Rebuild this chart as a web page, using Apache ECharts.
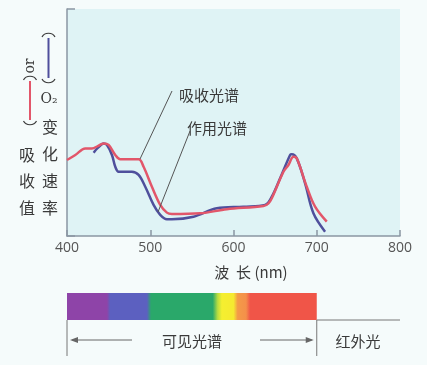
<!DOCTYPE html>
<html><head><meta charset="utf-8">
<script src="https://cdn.jsdelivr.net/npm/echarts@6/dist/echarts.min.js"></script>
<style>html,body{margin:0;padding:0;background:#f5fbfb}#c{width:427px;height:365px}</style>
</head><body><div id="c"></div>
<script>
const wavelengthTicks = [400, 500, 600, 700, 800];
// 吸收光谱 (absorption spectrum)
const absorptionNm  = [400, 410, 422, 430, 437, 444, 450, 458, 464, 486, 492, 502, 512, 520, 526, 560, 592, 636, 642, 646, 660, 666, 672, 676, 688, 698, 712];
const absorptionVal = [33.5, 35.7, 38.6, 38.6, 39.6, 40.8, 40.1, 35.7, 33.8, 33.8, 30.5, 21.7, 13.7, 10.3, 9.7, 10.0, 11.8, 13.2, 14.4, 16.6, 28.3, 31.3, 34.9, 34.2, 21.7, 12.9, 6.3];
// 作用光谱 (action spectrum)
const actionNm  = [432, 437, 444, 448, 454, 458, 462, 478, 486, 494, 504, 512, 520, 526, 552, 580, 612, 638, 646, 656, 668, 670, 676, 686, 696, 710];
const actionVal = [36.7, 38.8, 40.7, 40.1, 35.7, 30.5, 28.3, 28.3, 26.9, 21.7, 13.7, 9.3, 7.4, 7.4, 8.5, 12.2, 12.9, 13.7, 17.3, 25.4, 35.7, 36.0, 34.2, 23.2, 10.0, 1.9];
// visible spectrum colour band
const spectrumNm    = [400, 448, 452, 496, 501, 575, 581, 586, 600, 605, 615, 620, 700];
const spectrumColor = ['#8e44a8', '#8e44a8', '#5c60c0', '#5c60c0', '#2aa86a', '#2aa86a', '#b8dc40', '#f5ef30', '#f5ea30', '#f49a48', '#f4904a', '#f05548', '#f05548'];
const visibleRange = [400, 700];

const zip = (a, b) => a.map((v, i) => [v, b[i]]);
const CJK = '"Noto Sans CJK SC", "Noto Sans", sans-serif';
const TXT = '#3a3a3a';
const AX = '#8a96a3';
const RED = '#e2566a';
const BLUE = '#4f4f9c';

const chart = echarts.init(document.getElementById('c'));
chart.setOption({
  backgroundColor: '#f5fbfb',
  animation: false,
  grid: [
    {left: 67, right: 27, top: 9, bottom: 129, show: true, backgroundColor: '#dff3f5', borderWidth: 0},
    {left: 67, right: 27, top: 293, height: 27, show: false}
  ],
  xAxis: [
    {gridIndex: 0, type: 'value', min: wavelengthTicks[0], max: wavelengthTicks[wavelengthTicks.length - 1], interval: 100,
     axisLine: {show: true, lineStyle: {color: AX, width: 1.5}},
     axisTick: {show: true, inside: true, length: 6, lineStyle: {color: AX, width: 1.5}},
     axisLabel: {color: '#555', fontSize: 14, margin: 5, fontFamily: '"Open Sans", sans-serif'},
     splitLine: {show: false}},
    {gridIndex: 1, type: 'value', min: 400, max: 800, show: false}
  ],
  yAxis: [
    {gridIndex: 0, type: 'value', min: 0, max: 100, interval: 100,
     axisLine: {show: true, lineStyle: {color: AX, width: 1.5}},
     axisTick: {show: true, inside: true, length: 8, lineStyle: {color: AX, width: 1.5}},
     axisLabel: {show: false}, splitLine: {show: false}},
    {gridIndex: 1, type: 'value', min: 0, max: 1, show: false}
  ],
  series: [
    {type: 'line', name: '吸收光谱', data: zip(absorptionNm, absorptionVal), smooth: 0.35, symbol: 'none',
     lineStyle: {color: RED, width: 2.5}, z: 3},
    {type: 'line', name: '作用光谱', data: zip(actionNm, actionVal), smooth: 0.35, symbol: 'none',
     lineStyle: {color: BLUE, width: 2.5}, z: 2},
    {type: 'custom', xAxisIndex: 1, yAxisIndex: 1, data: [visibleRange],
     renderItem: function (params, api) {
       const p0 = api.coord([api.value(0), 1]);
       const p1 = api.coord([api.value(1), 0]);
       const span = visibleRange[1] - visibleRange[0];
       const stops = spectrumNm.map((nm, i) => ({offset: (nm - visibleRange[0]) / span, color: spectrumColor[i]}));
       return {type: 'rect', shape: {x: p0[0], y: p0[1], width: p1[0] - p0[0], height: p1[1] - p0[1]},
               style: {fill: new echarts.graphic.LinearGradient(0, 0, 1, 0, stops)}};
     }}
  ]
});

const xv0 = chart.convertToPixel({xAxisIndex: 1}, visibleRange[0]);
const xv1 = chart.convertToPixel({xAxisIndex: 1}, visibleRange[1]);
const xEnd = chart.convertToPixel({xAxisIndex: 1}, 800);
const barBottom = chart.convertToPixel({yAxisIndex: 1}, 0);

function t(text, x, y, opt) {
  opt = opt || {};
  return {type: 'text', x: x, y: y, rotation: opt.rot || 0, z: 10,
    style: {text: text, fill: opt.color || TXT, font: (opt.size || 15) + 'px ' + (opt.family || CJK),
            align: opt.align || 'center', verticalAlign: 'middle',
            textAlign: opt.align || 'center', textVerticalAlign: 'middle'}};
}
function ln(x1, y1, x2, y2, color, w) {
  return {type: 'line', z: 10, shape: {x1: x1, y1: y1, x2: x2, y2: y2}, style: {stroke: color || '#555', lineWidth: w || 1}};
}
// horizontal "bracket" cap: dir -1 = opening downward (top), +1 = opening upward (bottom)
function cap(cx, y, dir) {
  return {type: 'bezierCurve', z: 10,
    shape: {x1: cx - 6.5, y1: y, cpx1: cx - 5, cpy1: y - dir * 6, cpx2: cx + 5, cpy2: y - dir * 6, x2: cx + 6.5, y2: y, x1_: 0},
    style: {stroke: TXT, lineWidth: 1.2, fill: null}};
}
function capShape(cx, y, dir) {
  return {type: 'bezierCurve', z: 10,
    shape: {x1: cx - 6.5, y1: y, x2: cx + 6.5, y2: y, cpx1: cx - 4, cpy1: y + dir * 5, cpx2: cx + 4, cpy2: y + dir * 5},
    style: {stroke: TXT, lineWidth: 1.2, fill: null}};
}
const arrowY = 340;
chart.setOption({
  graphic: [
    // y-axis label, right column
    capShape(48.5, 37, -1),
    ln(48.5, 38, 48.5, 78, BLUE, 2),
    capShape(48.5, 79, 1),
    t('O₂', 49, 99, {size: 14, family: '"DejaVu Serif", serif'}),
    t('变', 50, 127, {size: 16}),
    t('化', 50, 154, {size: 16}),
    t('速', 50, 181, {size: 16}),
    t('率', 50, 208, {size: 16}),
    // y-axis label, left column
    t('or', 30, 66, {rot: Math.PI / 2, size: 14, family: '"DejaVu Serif", serif'}),
    capShape(30, 80, -1),
    ln(30, 81, 30, 120, RED, 2),
    capShape(30, 121, 1),
    t('吸', 27, 155, {size: 16}),
    t('收', 27, 181, {size: 16}),
    t('值', 27, 208, {size: 16}),
    // curve annotations
    t('吸收光谱', 179, 95, {align: 'left', size: 15}),
    ln(140, 159, 172, 91, '#555', 1),
    t('作用光谱', 187, 128, {align: 'left', size: 15}),
    ln(158, 212, 190, 131, '#555', 1),
    // x-axis name
    t('波  长 (nm)', 251, 272, {size: 15}),
    // spectrum annotations
    ln(xv1, barBottom, xEnd, barBottom, '#777', 1),
    ln(xv0, barBottom, xv0, 356, '#777', 1),
    ln(xv1, barBottom, xv1, 356, '#777', 1),
    ln(xv0 + 5, arrowY, 132, arrowY, '#666', 1),
    {type: 'polygon', z: 10, shape: {points: [[xv0 + 3, arrowY], [xv0 + 11, arrowY - 3], [xv0 + 11, arrowY + 3]]}, style: {fill: '#666'}},
    ln(260, arrowY, xv1 - 5, arrowY, '#666', 1),
    {type: 'polygon', z: 10, shape: {points: [[xv1 - 3, arrowY], [xv1 - 11, arrowY - 3], [xv1 - 11, arrowY + 3]]}, style: {fill: '#666'}},
    t('可见光谱', 192, 341, {size: 15}),
    t('红外光', 358, 341, {size: 15})
  ]
});
</script>
</body></html>
